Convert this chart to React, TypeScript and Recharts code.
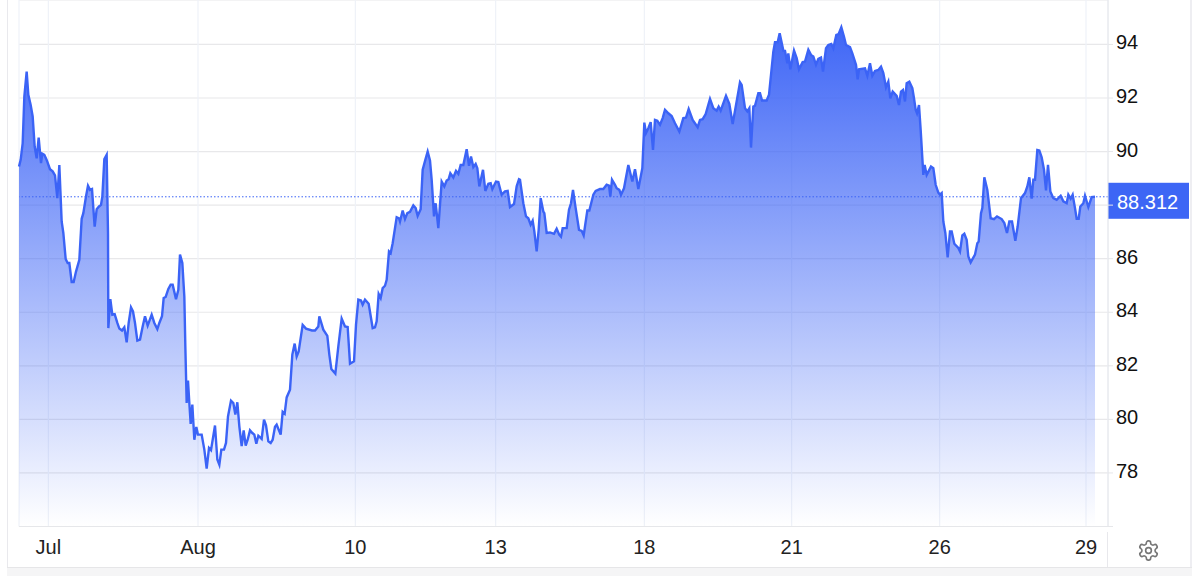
import { AreaChart, Area, XAxis, YAxis, CartesianGrid, ReferenceLine } from "recharts";

const FONT = '"Liberation Sans", Arial, sans-serif';
const BLUE = "#3b63f6";

// bar index on the time axis, tick positions and their labels
const X_TICKS = [88, 537, 1009, 1430, 1876, 2318, 2762, 3201];
const X_LABELS = ["Jul", "Aug", "10", "13", "18", "21", "26", "29"];
const Y_TICKS = [76, 78, 80, 82, 84, 86, 88, 90, 92, 94];
const LAST_PRICE = 88.312;

const TIMES_A = [
  0, 5, 11, 16, 23, 28, 35, 41, 47, 53,
  59, 66, 70, 76, 83, 93, 101, 108, 115, 121,
  128, 133, 140, 146, 151, 158, 164, 171, 181, 188,
  193, 201, 207, 213, 219, 227, 233, 240, 246, 250,
  256, 263, 267,
];
const PRICES_A = [
  89.44, 89.69, 90.31, 92.05, 92.99, 92.12, 91.74, 91.31, 90.19, 89.75,
  90.52, 89.57, 89.92, 89.88, 89.69, 89.34, 89.26, 89.11, 88.26, 89.5,
  87.39, 86.96, 85.99, 85.84, 85.84, 85.13, 85.13, 85.52, 85.96, 87.49,
  87.7, 88.32, 88.72, 88.57, 88.6, 87.2, 87.85, 87.95, 88.01, 88.32,
  89.72, 89.88, 86.96,
];

const TIMES_B = [
  268, 274, 280, 287, 295, 301, 309, 316, 323, 329,
  336, 342, 348, 355, 363, 371, 378, 386, 398, 406,
  415, 421, 429, 434, 440, 448, 455, 461, 471, 478,
  483, 490, 496, 499, 503, 507, 511, 515, 520, 526,
  532, 537, 548, 556, 563, 570, 576, 588, 595, 601,
  607, 615, 621, 627, 636, 643, 649, 655, 661, 668,
  674, 680, 686, 693, 700, 706, 712, 718, 728, 735,
  741, 748, 755, 761, 768, 773, 785, 791, 797, 803,
  813, 820, 827, 833, 839, 851, 861, 879, 888, 898,
  901, 908, 913, 925, 931, 937, 949, 958, 968, 978,
  986, 993, 1005, 1011, 1018, 1026, 1031, 1038, 1049, 1061,
  1068, 1073, 1079, 1085, 1091, 1098, 1103, 1110, 1115, 1121,
  1133, 1140,
];
const PRICES_B = [
  83.41, 84.49, 83.91, 83.93, 83.6, 83.39, 83.32, 83.44, 82.88, 83.6,
  84.18, 84.03, 83.6, 82.94, 82.98, 83.47, 83.85, 83.5, 83.91, 83.6,
  83.37, 83.6, 83.85, 84.53, 84.57, 84.87, 85.03, 85.03, 84.49, 84.84,
  86.15, 85.84, 84.59, 82.73, 80.61, 81.45, 80.61, 79.83, 80.55, 79.24,
  79.72, 79.43, 79.43, 78.87, 78.16, 78.93, 78.85, 79.77, 78.5, 78.31,
  78.87, 78.87, 79.12, 80.11, 80.7, 80.61, 80.18, 80.64, 79.74, 79.0,
  79.59, 79.02, 79.24, 79.59, 79.49, 79.43, 79.09, 79.39, 79.27, 79.99,
  79.78, 79.18, 79.12, 79.24, 79.72, 79.8, 79.43, 80.28, 80.21, 80.82,
  81.11, 82.42, 82.83, 82.35, 82.54, 83.53, 83.39, 83.32, 83.32, 83.47,
  83.85, 83.56, 83.35, 83.12, 82.42, 81.88, 81.71, 82.73, 83.76, 83.47,
  83.45, 82.08, 82.17, 83.53, 84.47, 84.44, 84.28, 84.47, 84.32, 83.41,
  83.44, 83.66, 84.68, 84.53, 84.9, 84.99, 85.21, 86.27, 86.21, 86.58,
  87.55, 87.51,
];

const TIMES_C = [
  1143, 1151, 1158, 1165, 1173, 1183, 1190, 1196, 1205, 1211,
  1219, 1226, 1233, 1238, 1245, 1250, 1258, 1268, 1276, 1283,
  1289, 1294, 1303, 1311, 1318, 1325, 1333, 1343, 1350, 1356,
  1363, 1370, 1375, 1381, 1392, 1399, 1408, 1415, 1420, 1431,
  1438, 1448, 1458, 1466, 1473, 1485, 1493, 1500, 1503, 1513,
  1521, 1528, 1535, 1541, 1546, 1553, 1559, 1565, 1573, 1576,
  1583, 1593, 1605, 1613, 1621, 1626, 1631, 1643, 1650, 1656,
  1662, 1670, 1680, 1688, 1694, 1705, 1711, 1723, 1730, 1743,
  1753, 1763, 1770, 1774, 1779, 1788, 1793, 1801, 1806, 1815,
  1828, 1840, 1848, 1858, 1870, 1876, 1881, 1888, 1895, 1902,
  1908, 1915, 1923, 1931, 1938, 1948, 1958, 1968, 1981, 1993,
  2001, 2009, 2021, 2036, 2043, 2051, 2060, 2073, 2083, 2093,
  2099, 2105, 2121, 2131, 2141, 2159,
];
const PRICES_C = [
  87.39, 87.8, 87.48, 87.7, 87.75, 87.99, 87.89, 87.6, 87.85, 89.32,
  89.69, 90.0, 89.67, 88.95, 87.58, 88.07, 87.14, 88.88, 88.7, 88.92,
  88.97, 89.19, 89.03, 89.28, 89.17, 89.5, 89.5, 90.09, 89.47, 89.82,
  89.42, 89.54, 89.38, 88.7, 89.32, 88.53, 88.8, 88.82, 88.6, 88.88,
  88.86, 88.39, 88.51, 88.53, 87.93, 88.04, 88.7, 88.97, 88.95, 88.07,
  87.58, 87.51, 87.27, 87.42, 87.02, 86.27, 87.08, 88.26, 87.76, 87.7,
  86.96, 86.98, 86.93, 87.12, 86.89, 86.82, 87.14, 87.14, 87.83, 88.07,
  88.57, 87.89, 87.08, 87.04, 86.87, 87.8, 87.8, 88.39, 88.53, 88.6,
  88.6, 88.76, 88.73, 88.32, 88.95, 88.76, 88.63, 88.57, 88.39, 88.63,
  89.5, 88.88, 89.34, 88.6, 89.38, 91.08, 90.69, 90.87, 91.1, 90.06,
  91.18, 91.15, 91.0, 91.25, 91.56, 91.43, 91.33, 91.06, 90.75, 91.25,
  91.27, 91.59, 91.18, 90.91, 91.18, 91.21, 91.4, 91.97, 91.62, 91.53,
  91.68, 91.53, 92.08, 91.78, 91.03, 92.3,
];

const TIMES_D = [
  2163, 2168, 2178, 2185, 2191, 2196, 2203, 2208, 2218, 2223,
  2229, 2243, 2250, 2263, 2268, 2276, 2282, 2293, 2298, 2305,
  2308, 2314, 2325, 2333, 2340, 2351, 2358, 2368, 2376, 2383,
  2391, 2398, 2406, 2412, 2421, 2428, 2437, 2443, 2452, 2459,
  2467, 2475, 2481, 2493, 2500, 2511, 2516, 2520, 2538, 2545,
  2553, 2560, 2568, 2578, 2586, 2593, 2601, 2608, 2614, 2621,
  2633, 2640, 2646, 2652, 2658, 2663, 2671, 2680, 2685, 2690,
  2694,
];
const PRICES_D = [
  92.59, 92.49, 91.62, 91.5, 91.62, 90.15, 91.68, 91.71, 92.18, 92.18,
  91.91, 91.91, 92.12, 93.73, 94.08, 94.08, 94.42, 93.77, 93.76, 93.3,
  93.67, 93.07, 93.77, 93.49, 93.07, 93.34, 93.36, 93.8, 93.61, 93.55,
  93.24, 93.46, 93.51, 92.99, 93.86, 93.98, 94.02, 93.86, 94.36, 94.39,
  94.64, 94.29, 93.98, 93.9, 93.67, 93.24, 92.7, 93.07, 93.11, 92.83,
  93.3, 92.83, 93.01, 93.05, 93.17, 92.93, 92.4, 92.61, 91.99, 92.24,
  92.08, 91.74, 92.24, 92.3, 91.87, 92.55, 92.61, 92.37, 91.99, 91.56,
  91.43,
];

const TIMES_E = [
  2700, 2705, 2713, 2717, 2723, 2736, 2743, 2750, 2758, 2763,
  2768, 2773, 2779, 2786, 2793, 2798, 2806, 2818, 2823, 2830,
  2836, 2843, 2848, 2855, 2868, 2875, 2879, 2886, 2890, 2896,
  2905, 2915, 2925, 2934, 2948, 2956, 2964, 2971, 2979, 2989,
  2996, 3006, 3018, 3025, 3031, 3038, 3043, 3048, 3055, 3061,
  3068, 3075, 3081, 3087, 3094, 3103, 3113, 3125, 3133, 3143,
  3148, 3155, 3161, 3168, 3173, 3179, 3184, 3193, 3198, 3208,
  3218, 3228,
];
const PRICES_E = [
  91.74, 90.81, 89.13, 89.5, 89.13, 89.44, 89.38, 88.76, 88.47, 88.39,
  88.45, 87.39, 86.96, 86.05, 87.02, 87.02, 86.56, 86.4, 86.27, 86.87,
  86.93, 86.71, 86.08, 85.86, 86.15, 86.58, 86.64, 87.7, 87.89, 89.04,
  88.57, 87.51, 87.48, 87.58, 87.48, 87.33, 86.96, 87.39, 87.39, 86.67,
  87.2, 88.26, 88.45, 88.7, 89.04, 88.24, 88.95, 88.95, 90.06, 90.04,
  89.79, 89.32, 88.55, 89.5, 88.51, 88.26, 88.2, 88.35, 88.14, 88.07,
  88.39, 88.24, 88.39, 87.89, 87.49, 87.49, 87.95, 88.07, 88.35, 87.93,
  88.3, LAST_PRICE,
];

const TIMES = [...TIMES_A, ...TIMES_B, ...TIMES_C, ...TIMES_D, ...TIMES_E];
const PRICES = [...PRICES_A, ...PRICES_B, ...PRICES_C, ...PRICES_D, ...PRICES_E];
const data = TIMES.map((t, i) => ({ t, price: PRICES[i] }));

function XTick({ x, y, payload }: any) {
  return (
    <text x={x} y={y + 19} textAnchor="middle" fontFamily={FONT} fontSize={20} fill="#222">
      {X_LABELS[X_TICKS.indexOf(payload.value)]}
    </text>
  );
}

// 76 only carries the tick mark, and the 88 label sits under the last price badge
function YTick({ x, y, payload }: any) {
  if (payload.value === 76 || payload.value === 88) return <g />;
  return (
    <text x={x} y={y + 5} textAnchor="start" fontFamily={FONT} fontSize={20} fill="#111">
      {payload.value}
    </text>
  );
}

function LastPriceBadge({ viewBox }: any) {
  const right = viewBox.x + viewBox.width;
  return (
    <g>
      <rect x={right} y={viewBox.y - 14} width={81} height={36} fill="#3d66f5" />
      <text x={right + 9} y={viewBox.y + 12} fontFamily={FONT} fontSize={20} fill="#fff">
        {LAST_PRICE}
      </text>
    </g>
  );
}

function Frame() {
  const box = (style: any) => <div style={{ position: "absolute", ...style }} />;
  return (
    <>
      {box({ left: 7, top: 0, width: 1, height: 567, background: "#e9e9ed" })}
      {box({ left: 1190, top: 0, width: 2, height: 567, background: "#eeeef2" })}
      {box({ left: 1107, top: 532, width: 1, height: 35, background: "#e8e8ec" })}
      {box({ left: 7, top: 567, width: 1185, height: 9, background: "#f5f5f6", borderTop: "1px solid #e6e6e8", boxSizing: "border-box" })}
      <svg
        style={{ position: "absolute", left: 1137, top: 539 }}
        width={23}
        height={23}
        viewBox="0 0 24 24"
        fill="none"
        stroke="#767676"
        strokeWidth={1.7}
      >
        <path d="M12.22 2h-.44a2 2 0 0 0-2 2v.18a2 2 0 0 1-1 1.73l-.43.25a2 2 0 0 1-2 0l-.15-.08a2 2 0 0 0-2.73.73l-.22.38a2 2 0 0 0 .73 2.73l.15.1a2 2 0 0 1 1 1.72v.51a2 2 0 0 1-1 1.74l-.15.09a2 2 0 0 0-.73 2.73l.22.38a2 2 0 0 0 2.73.73l.15-.08a2 2 0 0 1 2 0l.43.25a2 2 0 0 1 1 1.73V20a2 2 0 0 0 2 2h.44a2 2 0 0 0 2-2v-.18a2 2 0 0 1 1-1.73l.43-.25a2 2 0 0 1 2 0l.15.08a2 2 0 0 0 2.73-.73l.22-.39a2 2 0 0 0-.73-2.73l-.15-.08a2 2 0 0 1-1-1.74v-.5a2 2 0 0 1 1-1.74l.15-.09a2 2 0 0 0 .73-2.73l-.22-.38a2 2 0 0 0-2.73-.73l-.15.08a2 2 0 0 1-2 0l-.43-.25a2 2 0 0 1-1-1.73V4a2 2 0 0 0-2-2z" />
        <circle cx="12" cy="12" r="3" />
      </svg>
    </>
  );
}

export default function App() {
  return (
    <div style={{ position: "absolute", left: 0, top: 0, width: 1200, height: 576, background: "#fff", overflow: "hidden" }}>
      <Frame />
      <AreaChart
        width={1200}
        height={576}
        data={data}
        margin={{ top: 0, right: 0, bottom: 0, left: 19 }}
        style={{ position: "absolute", left: 0, top: 0 }}
      >
        <defs>
          <linearGradient id="priceFill" x1="0" y1="0" x2="0" y2="1">
            <stop offset="0%" stopColor={BLUE} stopOpacity={0.98} />
            <stop offset="100%" stopColor={BLUE} stopOpacity={0} />
          </linearGradient>
        </defs>
        <CartesianGrid vertical={false} stroke="#e8e8ea" strokeWidth={1.2} />
        <CartesianGrid horizontal={false} stroke="#eef2f8" strokeWidth={1.2} />
        <XAxis
          dataKey="t"
          type="number"
          domain={[0, 3267]}
          ticks={X_TICKS}
          interval={0}
          height={49.5}
          tickLine={false}
          axisLine={{ stroke: "#e6e7ea", strokeWidth: 1.2 }}
          tick={<XTick />}
        />
        <YAxis
          orientation="right"
          domain={[76, 95.66]}
          ticks={Y_TICKS}
          interval={0}
          width={92}
          tickSize={5}
          tickMargin={3}
          tickLine={{ stroke: "#e6e7ea" }}
          axisLine={{ stroke: "#e6e7ea" }}
          tick={<YTick />}
        />
        <Area
          type="linear"
          dataKey="price"
          stroke={BLUE}
          strokeWidth={2.4}
          fill="url(#priceFill)"
          fillOpacity={1}
          dot={false}
          isAnimationActive={false}
        />
        <ReferenceLine
          y={LAST_PRICE}
          stroke={BLUE}
          strokeWidth={1}
          strokeDasharray="1.5 2"
          label={<LastPriceBadge />}
        />
      </AreaChart>
    </div>
  );
}
